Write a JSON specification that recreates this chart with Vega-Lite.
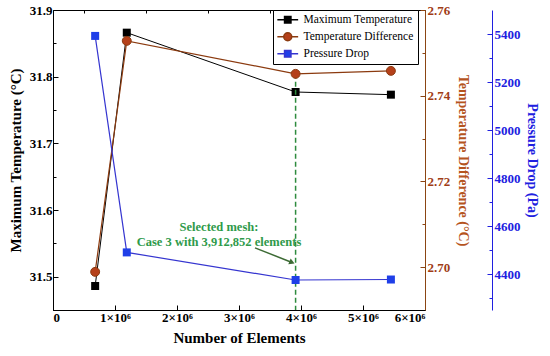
{
  "$schema": "https://vega.github.io/schema/vega-lite/v6.json",
  "width": 372,
  "height": 300,
  "autosize": {"type": "none"},
  "padding": {"left": 53, "top": 10, "right": 125, "bottom": 46},
  "config": {
    "font": "Liberation Serif",
    "view": {"stroke": "#000000", "strokeWidth": 1},
    "axis": {"grid": false, "labelFont": "Liberation Serif", "titleFont": "Liberation Serif", "labelFontWeight": "bold", "titleFontWeight": "bold", "labelFontSize": 13, "titleFontSize": 15, "tickSize": -5, "labelPadding": 6, "domainWidth": 1, "tickWidth": 1}
  },
  "datasets": {
    "main": [
      {"n": 680000, "tmax": 31.486, "tdiff": 2.6989, "dp": 5392},
      {"n": 1190000, "tmax": 31.866, "tdiff": 2.7528, "dp": 4490},
      {"n": 3912852, "tmax": 31.777, "tdiff": 2.7451, "dp": 4375},
      {"n": 5450000, "tmax": 31.773, "tdiff": 2.7458, "dp": 4377}
    ],
    "series": [
      {"series": "Maximum Temperature"},
      {"series": "Temperature Difference"},
      {"series": "Pressure Drop"}
    ],
    "sel": [{"n": 3912852, "tdiff": 2.7451, "tbot": 2.69}],
    "note": [
      {"n": 2677000, "tdiff": 2.7094, "label": "Selected mesh:"},
      {"n": 2677000, "tdiff": 2.7059, "label": "Case 3 with 3,912,852 elements"}
    ],
    "arrow": [{"n": 3258000, "tdiff": 2.7045, "n2": 3855000, "tdiff2": 2.7011}],
    "head": [{"n": 3855000, "tdiff": 2.7011}]
  },
  "layer": [
    {
      "data": {"name": "main"},
      "encoding": {
        "x": {"field": "n", "type": "quantitative", "scale": {"domain": [0, 6000000], "nice": false, "zero": false},
          "axis": {"title": "Number of Elements", "values": [0, 1000000, 2000000, 3000000, 4000000, 5000000, 6000000], "labelExpr": "datum.value == 0 ? '0' : (datum.value/1000000) + '×10⁶'", "titlePadding": 6, "domainColor": "#000000", "tickColor": "#000000"}},
        "y": {"field": "tmax", "type": "quantitative", "scale": {"domain": [31.45, 31.9], "nice": false, "zero": false},
          "axis": {"title": "Maximum Temperature (°C)", "values": [31.5, 31.6, 31.7, 31.8, 31.9], "format": ".1f", "titlePadding": 6, "domainColor": "#000000", "tickColor": "#000000"}}
      },
      "layer": [
        {"mark": {"type": "line", "color": "#000000", "strokeWidth": 1}},
        {"mark": {"type": "point", "shape": "square", "filled": true, "size": 64, "opacity": 1, "color": "#000000"}}
      ]
    },
    {
      "encoding": {
        "x": {"field": "n", "type": "quantitative", "axis": null},
        "y": {"field": "tdiff", "type": "quantitative", "scale": {"domain": [2.69, 2.76], "nice": false, "zero": false},
          "axis": {"title": "Temperature Difference (°C)", "orient": "right", "values": [2.70, 2.72, 2.74, 2.76], "format": ".2f", "labelColor": "#a03c16", "titleColor": "#b5541e", "domainColor": "#8b4513", "tickColor": "#8b4513", "titleFontSize": 14, "titlePadding": 6, "labelPadding": 7}}
      },
      "layer": [
        {"data": {"name": "sel"}, "mark": {"type": "rule", "color": "#2e8b3e", "strokeWidth": 1.5, "strokeDash": [5, 3]},
         "encoding": {"y2": {"field": "tbot"}}},
        {"data": {"name": "main"}, "mark": {"type": "line", "color": "#8b3a0f", "strokeWidth": 1.2}},
        {"data": {"name": "main"}, "mark": {"type": "point", "shape": "circle", "filled": true, "size": 80, "opacity": 1, "fill": "#b5401a", "stroke": "#8b3a0f", "strokeWidth": 1}},
        {"data": {"name": "note"}, "mark": {"type": "text", "color": "#2e9a4a", "fontWeight": "bold", "fontSize": 12.5, "font": "Liberation Serif", "align": "center", "baseline": "middle"},
         "encoding": {"text": {"field": "label"}}},
        {"data": {"name": "arrow"}, "mark": {"type": "rule", "color": "#3d6b35", "strokeWidth": 1.5},
         "encoding": {"x2": {"field": "n2"}, "y2": {"field": "tdiff2"}}},
        {"data": {"name": "head"}, "mark": {"type": "point", "shape": "triangle-right", "filled": true, "size": 40, "angle": 22, "color": "#3d6b35", "opacity": 1}}
      ]
    },
    {
      "data": {"name": "main"},
      "encoding": {
        "x": {"field": "n", "type": "quantitative", "axis": null},
        "y": {"field": "dp", "type": "quantitative", "scale": {"domain": [4250, 5500], "nice": false, "zero": false},
          "axis": {"title": "Pressure Drop (Pa)", "orient": "right", "offset": 67, "values": [4400, 4600, 4800, 5000, 5200, 5400], "format": "d", "labelColor": "#2020e0", "titleColor": "#2020e0", "domainColor": "#2020e0", "tickColor": "#2020e0", "titleFontSize": 14, "titlePadding": 4, "labelPadding": 7}}
      },
      "layer": [
        {"mark": {"type": "line", "color": "#3535d0", "strokeWidth": 1.2}},
        {"mark": {"type": "point", "shape": "square", "filled": true, "size": 64, "opacity": 1, "color": "#1f3fe8"}}
      ]
    },
    {
      "data": {"name": "main"},
      "mark": {"type": "point", "opacity": 0},
      "encoding": {
        "x": {"field": "n", "type": "quantitative",
          "axis": {"title": null, "values": [500000, 1500000, 2500000, 3500000, 4500000, 5500000], "labels": false, "domain": false, "tickSize": -3, "tickColor": "#000000"}},
        "y": {"field": "tmax", "type": "quantitative", "scale": {"domain": [31.45, 31.9], "nice": false, "zero": false},
          "axis": {"title": null, "values": [31.55, 31.65, 31.75, 31.85], "labels": false, "domain": false, "tickSize": -3, "tickColor": "#000000"}}
      }
    },
    {
      "data": {"name": "main"},
      "mark": {"type": "point", "opacity": 0},
      "encoding": {
        "x": {"field": "n", "type": "quantitative", "axis": null},
        "y": {"field": "tdiff", "type": "quantitative", "scale": {"domain": [2.69, 2.76], "nice": false, "zero": false},
          "axis": {"title": null, "orient": "right", "values": [2.71, 2.73, 2.75], "labels": false, "domain": false, "tickSize": -3, "tickColor": "#8b4513"}}
      }
    },
    {
      "data": {"name": "main"},
      "mark": {"type": "point", "opacity": 0},
      "encoding": {
        "x": {"field": "n", "type": "quantitative", "axis": null},
        "y": {"field": "dp", "type": "quantitative", "scale": {"domain": [4250, 5500], "nice": false, "zero": false},
          "axis": {"title": null, "orient": "right", "offset": 67, "values": [4300, 4500, 4700, 4900, 5100, 5300], "labels": false, "domain": false, "tickSize": -3, "tickColor": "#2020e0"}}
      }
    },
    {
      "data": {"name": "series"},
      "transform": [{"filter": "false"}],
      "mark": {"type": "point", "filled": true, "size": 64, "strokeWidth": 1.2, "opacity": 1},
      "encoding": {
        "fill": {"field": "series", "type": "nominal",
          "scale": {"domain": ["Maximum Temperature", "Temperature Difference", "Pressure Drop"], "range": ["#000000", "#b5401a", "#1f3fe8"]},
          "legend": {"title": null, "orient": "none", "legendX": 220, "legendY": 0, "strokeColor": "#000000", "fillColor": "#ffffff", "padding": 4, "labelFont": "Liberation Serif", "labelFontSize": 11.5, "labelColor": "#000000", "rowPadding": 3, "symbolSize": 64, "symbolOffset": 5, "labelOffset": 10}},
        "stroke": {"field": "series", "type": "nominal",
          "scale": {"domain": ["Maximum Temperature", "Temperature Difference", "Pressure Drop"], "range": ["#000000", "#8b3a0f", "#3535d0"]},
          "legend": {"title": null, "orient": "none", "legendX": 220, "legendY": 0, "strokeColor": "#000000", "fillColor": "#ffffff", "padding": 4, "labelFont": "Liberation Serif", "labelFontSize": 11.5, "labelColor": "#000000", "rowPadding": 3, "symbolSize": 64, "symbolOffset": 5, "labelOffset": 10}},
        "shape": {"field": "series", "type": "nominal",
          "scale": {"domain": ["Maximum Temperature", "Temperature Difference", "Pressure Drop"], "range": ["M-2.6,0H-0.8M0.8,0H2.6M-0.8,-0.8H0.8V0.8H-0.8Z", "M-2.6,0H-1M1,0H2.6M-1,0A1,1,0,1,0,1,0A1,1,0,1,0,-1,0Z", "M-2.6,0H-0.8M0.8,0H2.6M-0.8,-0.8H0.8V0.8H-0.8Z"]},
          "legend": {"title": null, "orient": "none", "legendX": 220, "legendY": 0, "strokeColor": "#000000", "fillColor": "#ffffff", "padding": 4, "labelFont": "Liberation Serif", "labelFontSize": 11.5, "labelColor": "#000000", "rowPadding": 3, "symbolSize": 64, "symbolOffset": 5, "labelOffset": 10}}
      }
    }
  ],
  "resolve": {"scale": {"y": "independent"}, "axis": {"x": "independent"}}
}
